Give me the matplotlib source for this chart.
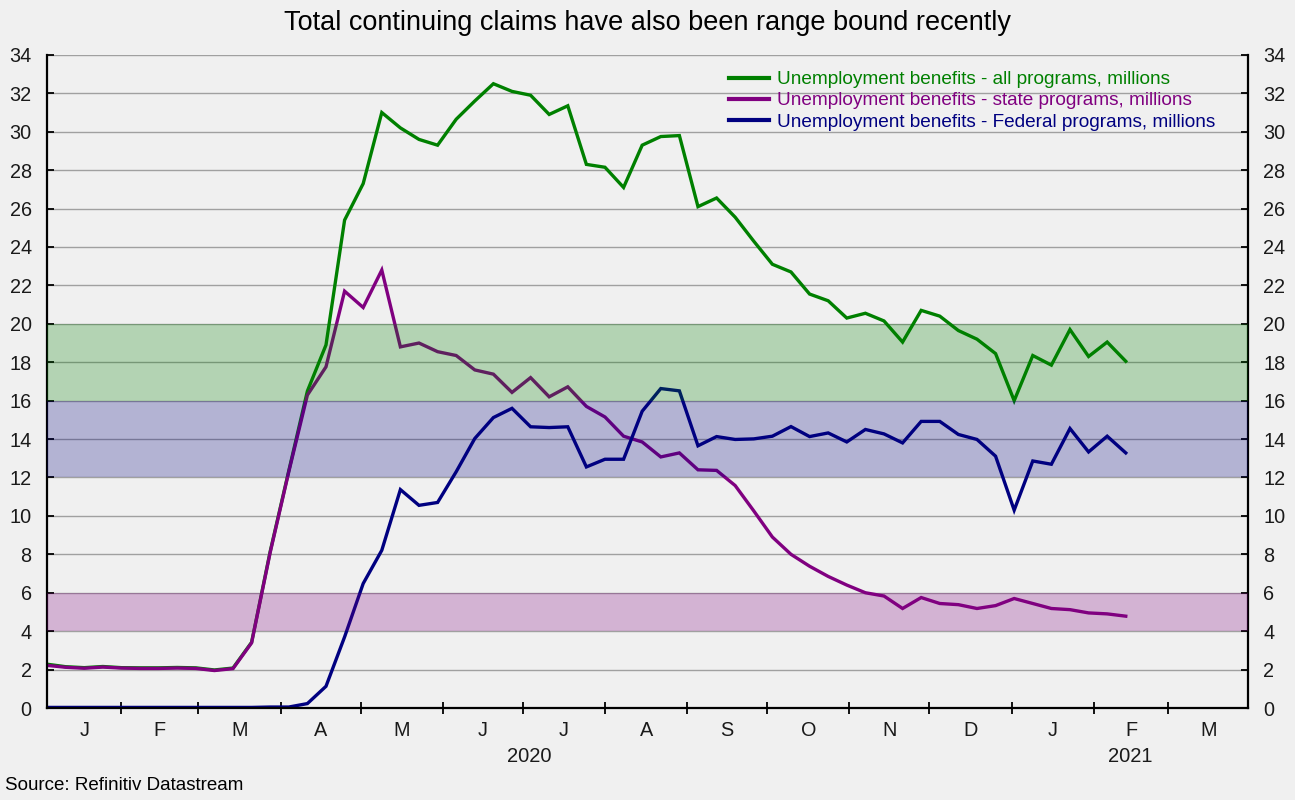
import matplotlib
matplotlib.use("Agg")
import matplotlib.pyplot as plt
import matplotlib.transforms as mtransforms
import pandas as pd
import numpy as np

plt.rcParams['font.family'] = ['Liberation Sans', 'DejaVu Sans']

# ---------------- data (millions, weekly, week ending Saturday) ----------------
week_start = "2020-01-04"
n_weeks = 59

all_programs = [2.28, 2.15, 2.10, 2.16, 2.10, 2.09, 2.09, 2.11, 2.09, 1.98,
                2.08, 3.42, 8.15, 12.35, 16.50, 18.90, 25.40, 27.30, 31.00, 30.20,
                29.60, 29.30, 30.65, 31.60, 32.50, 32.10, 31.90, 30.90, 31.35, 28.30,
                28.15, 27.10, 29.30, 29.75, 29.80, 26.10, 26.55, 25.55, 24.30, 23.10,
                22.70, 21.55, 21.20, 20.30, 20.55, 20.15, 19.05, 20.70, 20.40, 19.65,
                19.20, 18.45, 16.00, 18.35, 17.85, 19.70, 18.30, 19.05, 18.05]

state_programs = [2.22, 2.12, 2.07, 2.13, 2.08, 2.06, 2.06, 2.08, 2.06, 1.95,
                  2.05, 3.39, 8.10, 12.30, 16.29, 17.76, 21.70, 20.85, 22.80, 18.80,
                  19.00, 18.55, 18.35, 17.60, 17.38, 16.43, 17.20, 16.20, 16.72, 15.70,
                  15.15, 14.15, 13.85, 13.07, 13.28, 12.40, 12.37, 11.58, 10.26, 8.90,
                  8.00, 7.38, 6.85, 6.40, 6.00, 5.83, 5.18, 5.75, 5.44, 5.38,
                  5.18, 5.33, 5.70, 5.44, 5.18, 5.12, 4.95, 4.90, 4.78]

federal_programs = [0.03, 0.03, 0.03, 0.03, 0.03, 0.03, 0.03, 0.03, 0.03, 0.03,
                    0.03, 0.03, 0.05, 0.05, 0.23, 1.13, 3.70, 6.48, 8.21, 11.37,
                    10.55, 10.70, 12.30, 14.03, 15.12, 15.60, 14.64, 14.60, 14.64, 12.55,
                    12.95, 12.95, 15.45, 16.63, 16.51, 13.65, 14.13, 13.98, 14.01, 14.15,
                    14.65, 14.13, 14.32, 13.85, 14.50, 14.27, 13.80, 14.92, 14.92, 14.24,
                    13.98, 13.11, 10.30, 12.86, 12.69, 14.55, 13.33, 14.15, 13.28]

series_labels = ["Unemployment benefits - all programs, millions",
                 "Unemployment benefits - state programs, millions",
                 "Unemployment benefits - Federal programs, millions"]

bands = [(16, 20), (12, 16), (4, 6)]
month_letters = ["J", "F", "M", "A", "M", "J", "J", "A", "S", "O", "N", "D"]
year_labels = ["2020", "2021"]
y_ticks = list(range(0, 35, 2))

title = "Total continuing claims have also been range bound recently"
source = "Source: Refinitiv Datastream"

# ---------------- figure ----------------
BG = '#f0f0f0'
GREEN, PURPLE, NAVY = '#008000', '#800080', '#000080'
TXT = '#1a1a1a'

W, H = 1295, 800
fig = plt.figure(figsize=(W / 100, H / 100), dpi=100, facecolor=BG)
ax = fig.add_axes([47 / W, 1 - 708 / H, (1248 - 47) / W, (708 - 54.9) / H])
ax.set_facecolor(BG)

dates = pd.date_range(week_start, periods=n_weeks, freq='7D')
xmin = pd.Timestamp(week_start)
xmax = pd.Timestamp("2021-03-31")

ax.plot(dates, all_programs, color=GREEN, lw=2.4, label=series_labels[0], zorder=2,
        solid_joinstyle='miter')
ax.plot(dates, state_programs, color=PURPLE, lw=2.4, label=series_labels[1], zorder=2,
        solid_joinstyle='miter')
ax.plot(dates, federal_programs, color=NAVY, lw=2.4, label=series_labels[2], zorder=2,
        solid_joinstyle='miter')

for (lo, hi), c in zip(bands, [GREEN, NAVY, PURPLE]):
    ax.axhspan(lo, hi, color=c, alpha=0.25, lw=0, zorder=3)

ax.set_xlim(xmin, xmax)
ax.set_ylim(0, 34)
ax.set_yticks(y_ticks)
ax.yaxis.grid(True, color='#a0a0a0', lw=1.0, zorder=1)
ax.set_axisbelow(True)

ax.tick_params(axis='y', which='both', direction='in', length=5, width=1.3,
               left=True, right=True, labelleft=True, labelright=True,
               labelsize=14.3, pad=11, color='black', labelcolor=TXT)

# month boundaries and mid-month labels
bounds = [xmin] + list(pd.date_range("2020-02-01", "2021-03-01", freq='MS')) + [xmax]
tick_pos = list(pd.date_range("2020-02-01", "2021-03-01", freq='MS'))
mids, labs = [], []
for a, b in zip(bounds[:-1], bounds[1:]):
    mids.append(a + (b - a) / 2)
    labs.append(month_letters[a.month - 1])
ax.set_xticks(tick_pos)
ax.set_xticklabels([''] * len(tick_pos))
ax.set_xticks(mids, minor=True)
ax.set_xticklabels(labs, minor=True)
ax.tick_params(axis='x', which='major', direction='inout', length=9, width=1.3)
ax.tick_params(axis='x', which='minor', length=0, labelsize=14.3, pad=9, labelcolor=TXT)

# year labels
trans = mtransforms.blended_transform_factory(ax.transData, fig.transFigure)
y2020_mid = xmin + (pd.Timestamp("2021-01-01") - xmin) / 2
y2021_mid = pd.Timestamp("2021-01-01") + (xmax - pd.Timestamp("2021-01-01")) / 2
for pos, lab in zip([y2020_mid, y2021_mid], year_labels):
    ax.text(pos, 1 - 757 / H, lab, transform=trans, ha='center', va='center',
            fontsize=14.5, color=TXT)

for s in ['left', 'right', 'bottom']:
    ax.spines[s].set_color('black')
    ax.spines[s].set_linewidth(1.6)
ax.spines['top'].set_visible(False)

leg = ax.legend(loc='upper left', bbox_to_anchor=(729 / W, 1 - 71 / H),
                bbox_transform=fig.transFigure, frameon=False, fontsize=13.7,
                handlelength=2.1, handletextpad=0.42, labelspacing=0.2,
                borderaxespad=0, borderpad=0)
for txt, c in zip(leg.get_texts(), [GREEN, PURPLE, NAVY]):
    txt.set_color(c)
for ln in leg.get_lines():
    ln.set_linewidth(3)

fig.text(0.5, 1 - 30 / H, title, ha='center', va='baseline', fontsize=19.5, color='black')
fig.text(5 / W, 1 - 786 / H, source, ha='left', va='center', fontsize=13.5, color='black')

fig.savefig("out.png", dpi=100, facecolor=BG)
